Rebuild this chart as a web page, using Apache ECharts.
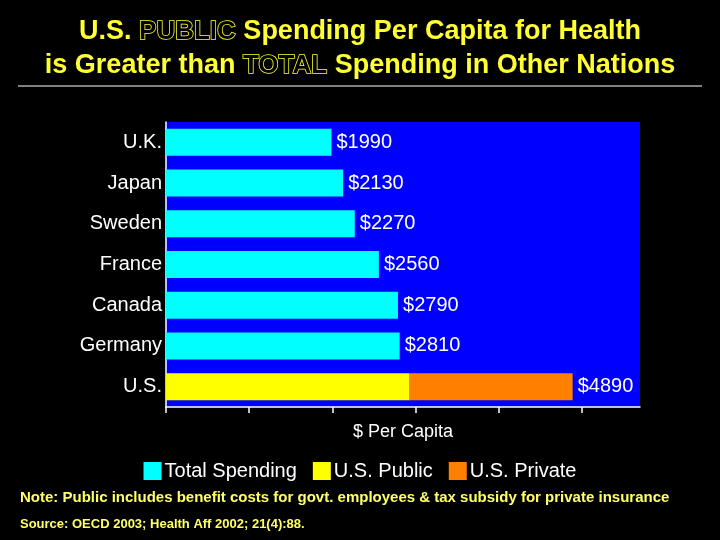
<!DOCTYPE html>
<html>
<head>
<meta charset="utf-8">
<script src="https://cdn.jsdelivr.net/npm/echarts@6/dist/echarts.min.js"></script>
<style>
  html, body { margin: 0; padding: 0; background: #000; }
  #main { width: 720px; height: 540px; }
</style>
</head>
<body>
<div id="main"></div>
<script>
// data
var countries = ['U.K.', 'Japan', 'Sweden', 'France', 'Canada', 'Germany', 'U.S.'];
var totalSpending = [1990, 2130, 2270, 2560, 2790, 2810, '-'];
var usPublic = ['-', '-', '-', '-', '-', '-', 2930];
var usPrivate = ['-', '-', '-', '-', '-', '-', 1960];
var xTicks = [0, 1000, 2000, 3000, 4000, 5000];

var myChart = echarts.init(document.getElementById('main'));

var font = '"Liberation Sans", Arial, sans-serif';
var valueLabel = {
    show: true,
    position: 'right',
    distance: 5,
    color: '#fff',
    fontSize: 20,
    fontFamily: font
};

var option = {
    backgroundColor: '#000',
    animation: false,
    title: {
        left: 'center',
        top: 10,
        text: '{a|U.S. }{b|PUBLIC}{a| Spending Per Capita for Health}\n{a|is Greater than }{b|TOTAL}{a| Spending in Other Nations}',
        textStyle: {
            rich: {
                a: { color: '#ffff33', fontSize: 27, fontWeight: 'bold', fontFamily: font, lineHeight: 34 },
                b: { color: '#000', fontSize: 26, fontWeight: 'bold', fontFamily: font, lineHeight: 34,
                     textBorderColor: '#ffff33', textBorderWidth: 1.5 }
            }
        }
    },
    legend: {
        top: 456,
        left: 'center',
        itemWidth: 18,
        itemHeight: 18,
        itemGap: 16,
        icon: 'rect',
        textStyle: { color: '#fff', fontSize: 20, fontFamily: font, padding: [0, 0, 0, -2] },
        data: ['Total Spending', 'U.S. Public', 'U.S. Private']
    },
    grid: {
        left: 166,
        right: 80,
        top: 122,
        bottom: 133,
        show: true,
        backgroundColor: '#0000ff',
        borderWidth: 0
    },
    xAxis: {
        type: 'value',
        min: 0,
        max: 5700,
        name: '$ Per Capita',
        nameLocation: 'middle',
        nameGap: 16,
        nameTextStyle: { color: '#fff', fontSize: 18, fontFamily: font },
        splitLine: { show: false },
        axisLabel: { show: false },
        axisLine: { show: true, lineStyle: { color: '#fff', width: 1.5 } },
        axisTick: { show: true, customValues: xTicks, length: 6, lineStyle: { color: '#fff', width: 1.5 } }
    },
    yAxis: {
        type: 'category',
        inverse: true,
        data: countries,
        axisLine: { show: true, lineStyle: { color: '#fff', width: 1.5 } },
        axisTick: { show: false },
        axisLabel: { color: '#fff', fontSize: 20, fontFamily: font, margin: 4 }
    },
    series: [
        {
            name: 'Total Spending',
            type: 'bar',
            stack: 'a',
            barWidth: 27,
            itemStyle: { color: '#00ffff' },
            label: Object.assign({}, valueLabel, { formatter: function (p) { return '$' + p.value; } }),
            data: totalSpending
        },
        {
            name: 'U.S. Public',
            type: 'bar',
            stack: 'a',
            barWidth: 27,
            itemStyle: { color: '#ffff00' },
            data: usPublic
        },
        {
            name: 'U.S. Private',
            type: 'bar',
            stack: 'a',
            barWidth: 27,
            itemStyle: { color: '#ff8000' },
            label: Object.assign({}, valueLabel, {
                formatter: function (p) { return '$' + (usPublic[p.dataIndex] + usPrivate[p.dataIndex]); }
            }),
            data: usPrivate
        }
    ],
    graphic: [
        {
            type: 'line',
            shape: { x1: 18, y1: 86, x2: 702, y2: 86 },
            style: { stroke: '#fff', lineWidth: 1 }
        },
        {
            type: 'text',
            left: 20,
            top: 490,
            style: {
                text: 'Note: Public includes benefit costs for govt. employees & tax subsidy for private insurance',
                fill: '#ffff66',
                font: 'bold 15px ' + font
            }
        },
        {
            type: 'text',
            left: 20,
            top: 518,
            style: {
                text: 'Source: OECD 2003; Health Aff 2002; 21(4):88.',
                fill: '#ffff66',
                font: 'bold 13px ' + font
            }
        }
    ]
};

myChart.setOption(option);
</script>
</body>
</html>
